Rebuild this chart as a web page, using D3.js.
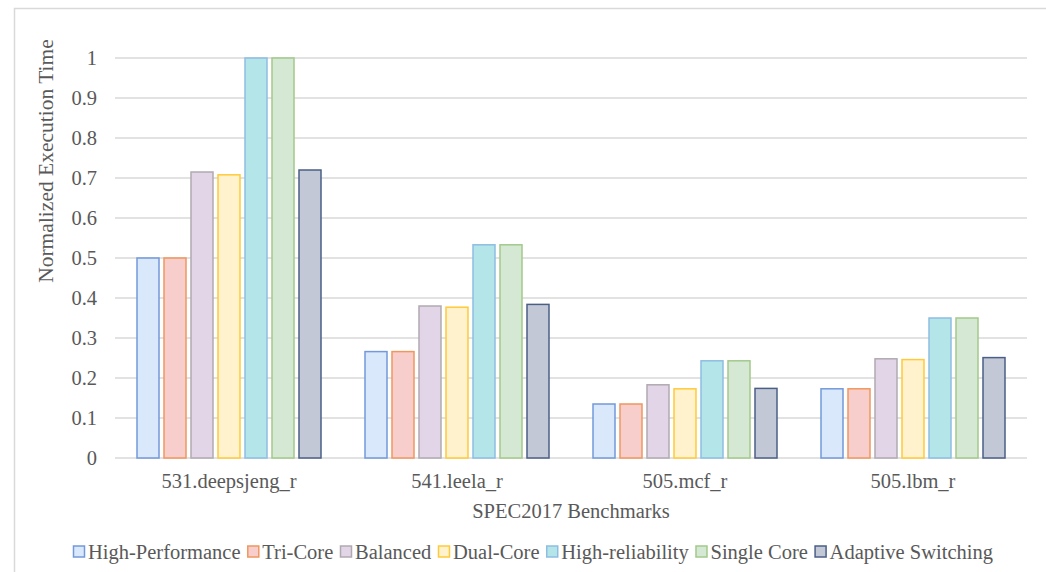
<!DOCTYPE html>
<html>
<head>
<meta charset="utf-8">
<script src="https://cdn.jsdelivr.net/npm/d3@7"></script>
<style>
  body { margin: 0; background: #fff; }
  text { font-family: "Liberation Serif", "Times New Roman", serif; }
</style>
</head>
<body>
<svg width="1046" height="572"></svg>
<script>
// benchmarks on the x axis
var benchmarks = ["531.deepsjeng_r", "541.leela_r", "505.mcf_r", "505.lbm_r"];
var configs = ["High-Performance", "Tri-Core", "Balanced", "Dual-Core", "High-reliability", "Single Core", "Adaptive Switching"];

// normalized execution time per config, one value per benchmark
var highPerformance   = [0.50, 0.266, 0.135, 0.173];
var triCore           = [0.50, 0.266, 0.135, 0.173];
var balanced          = [0.715, 0.380, 0.183, 0.248];
var dualCore          = [0.708, 0.377, 0.173, 0.246];
var highReliability   = [1.00, 0.533, 0.243, 0.350];
var singleCore        = [1.00, 0.533, 0.243, 0.350];
var adaptiveSwitching = [0.720, 0.384, 0.174, 0.251];

var yTicks = [0, 0.1, 0.2, 0.3, 0.4, 0.5, 0.6, 0.7, 0.8, 0.9, 1];

var series = [highPerformance, triCore, balanced, dualCore, highReliability, singleCore, adaptiveSwitching];
var fills   = ["#dae8fc", "#f8cecc", "#e1d5e7", "#fff2cc", "#b4e5e8", "#d5e8d4", "#c2c8d6"];
var strokes = ["#7399da", "#f0975e", "#b0aab0", "#ffca3a", "#8fbde2", "#a3c98a", "#4a5f86"];

var svg = d3.select("svg");
var margin = {top: 58, left: 115, right: 1027, bottom: 458};
var textCol = "#595959";
var fontSize = 20.5;

// chart border
svg.append("rect")
    .attr("x", 14.5).attr("y", 8.5)
    .attr("width", 1040).attr("height", 580)
    .attr("fill", "none").attr("stroke", "#d9d9d9").attr("stroke-width", 1.5);

var x0 = d3.scaleBand().domain(benchmarks).range([margin.left, margin.right]).padding(0);
var x1 = d3.scaleBand().domain(configs).range([22, x0.bandwidth() - 22]).paddingInner(0.185).paddingOuter(0);
var y = d3.scaleLinear().domain([0, 1]).range([margin.bottom, margin.top]);

// grid
svg.append("g").selectAll("line")
    .data(yTicks)
    .join("line")
    .attr("x1", margin.left).attr("x2", margin.right)
    .attr("y1", function(d){ return y(d); })
    .attr("y2", function(d){ return y(d); })
    .attr("stroke", "#d9d9d9").attr("stroke-width", 1.5);

// y axis labels
var yAxis = svg.append("g")
    .attr("transform", "translate(" + (margin.left - 18) + ",0)")
    .call(d3.axisLeft(y).tickValues(yTicks).tickFormat(d3.format("~g")).tickSize(0).tickPadding(0));
yAxis.select(".domain").remove();
yAxis.attr("font-family", null).attr("font-size", fontSize);
yAxis.selectAll("text").attr("fill", textCol);

// bars
var groups = svg.append("g").selectAll("g")
    .data(benchmarks)
    .join("g")
    .attr("transform", function(d){ return "translate(" + x0(d) + ",0)"; });

groups.selectAll("rect")
    .data(function(b, bi){ return configs.map(function(c, ci){ return {c: c, i: ci, v: series[ci][bi]}; }); })
    .join("rect")
    .attr("x", function(d){ return x1(d.c); })
    .attr("width", x1.bandwidth())
    .attr("y", function(d){ return y(d.v); })
    .attr("height", function(d){ return y(0) - y(d.v); })
    .attr("fill", function(d){ return fills[d.i]; })
    .attr("stroke", function(d){ return strokes[d.i]; })
    .attr("stroke-width", 1.5);

// x axis labels
var xAxis = svg.append("g")
    .attr("transform", "translate(0," + (margin.bottom + 15) + ")")
    .call(d3.axisBottom(x0).tickSize(0).tickPadding(0));
xAxis.select(".domain").remove();
xAxis.attr("font-family", null).attr("font-size", fontSize);
xAxis.selectAll("text").attr("fill", textCol);

// axis titles
svg.append("text")
    .attr("x", (margin.left + margin.right) / 2).attr("y", 518)
    .attr("text-anchor", "middle").attr("fill", textCol).attr("font-size", fontSize)
    .text("SPEC2017 Benchmarks");

svg.append("text")
    .attr("transform", "translate(53,161) rotate(-90)")
    .attr("text-anchor", "middle").attr("fill", textCol).attr("font-size", 21.5)
    .text("Normalized Execution Time");

// legend
var legend = svg.append("g").attr("transform", "translate(73,559)");
var items = legend.selectAll("g")
    .data(configs)
    .join("g");
items.append("rect")
    .attr("x", 0.5).attr("y", -13).attr("width", 11).attr("height", 11)
    .attr("fill", function(d, i){ return fills[i]; })
    .attr("stroke", function(d, i){ return strokes[i]; })
    .attr("stroke-width", 1.5);
items.append("text")
    .attr("x", 15).attr("y", 0)
    .attr("fill", textCol).attr("font-size", fontSize)
    .text(function(d){ return d; });

var widths = [];
items.selectAll("text").each(function(){ widths.push(this.getComputedTextLength()); });
var total = d3.sum(widths) + configs.length * 15;
var gap = (920 - total) / (configs.length - 1);
var lx = 0;
items.attr("transform", function(d, i){
    var t = "translate(" + lx + ",0)";
    lx += 15 + widths[i] + gap;
    return t;
});
</script>
</body>
</html>
